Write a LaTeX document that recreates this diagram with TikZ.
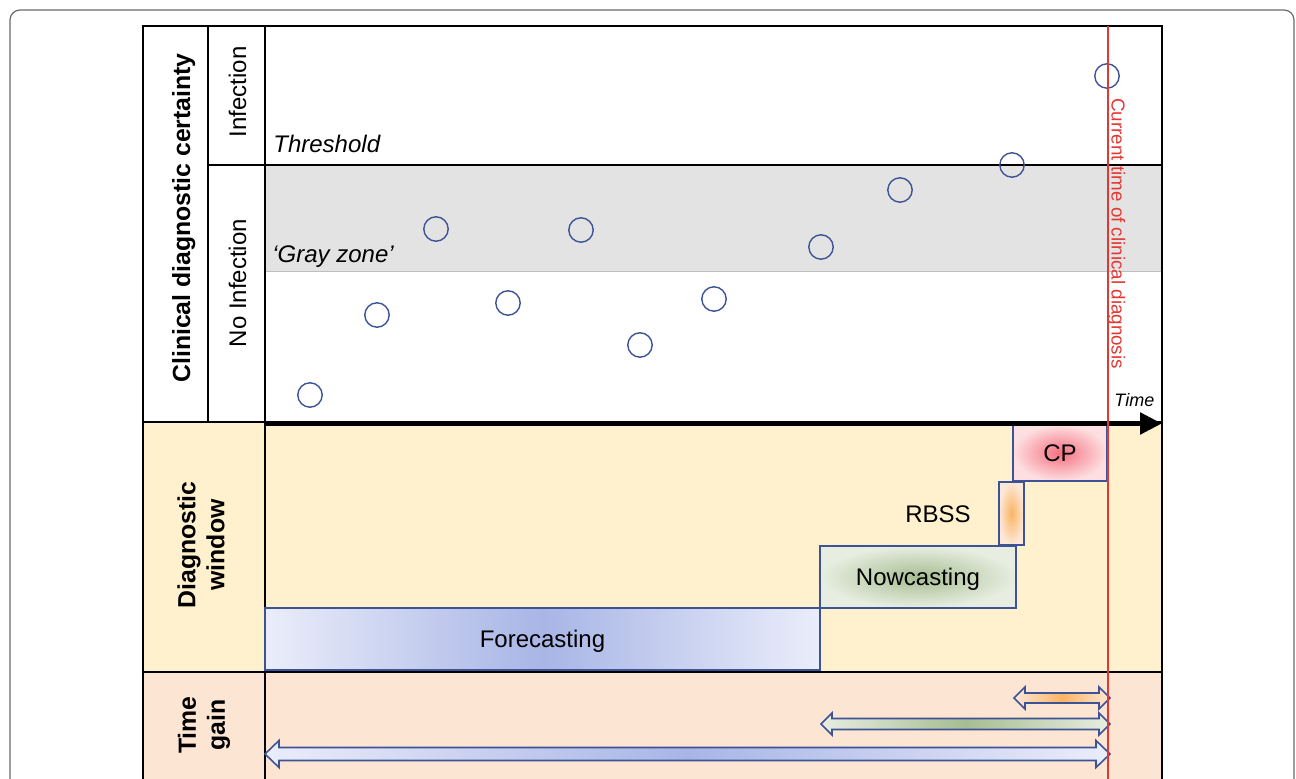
\documentclass[tikz,border=0pt]{standalone}
\usepackage{fontspec}
\setmainfont{Liberation Sans}
\usetikzlibrary{arrows.meta}

\definecolor{framegray}{RGB}{105,105,105}
\definecolor{ink}{RGB}{62,82,150}
\definecolor{rowyellow}{RGB}{255,241,205}
\definecolor{rowpeach}{RGB}{253,229,211}
\definecolor{zone}{RGB}{227,227,227}
\definecolor{zoneedge}{RGB}{190,190,190}
\definecolor{nowred}{RGB}{228,55,50}
\definecolor{blueC}{RGB}{168,181,230}
\definecolor{blueE}{RGB}{234,237,250}
\definecolor{greenC}{RGB}{166,189,145}
\definecolor{greenE}{RGB}{231,238,225}
\definecolor{orangeC}{RGB}{250,180,100}
\definecolor{orangeE}{RGB}{252,232,216}
\definecolor{redC}{RGB}{245,112,128}
\definecolor{redE}{RGB}{253,223,225}

\tikzset{
  rule/.style={line width=1pt, black},
  headlbl/.style={font=\bfseries\fontsize{12.4}{14.5}\selectfont, inner sep=0pt, align=center, rotate=90},
  sublbl/.style={font=\fontsize{12}{14}\selectfont, inner sep=0pt, rotate=90, anchor=base},
  note/.style={font=\itshape\fontsize{12}{14}\selectfont, inner sep=0pt, anchor=base west},
  dot/.style={circle, draw=ink, line width=0.7pt, minimum size=12.2pt, inner sep=0pt},
  stage/.style={draw=ink, line width=0.7pt, inner sep=0pt, text depth=0pt, font=\fontsize{12}{14}\selectfont},
  gain/.style={draw=ink, line width=0.8pt, line join=miter},
}

% double-headed block arrow: shading, left x, right x, centre y, half shaft, half head, head length
\newcommand\gainarrow[7]{%
  \path[gain, #1] (#2,#4) -- ({#2+#7},{#4-#6}) -- ({#2+#7},{#4-#5}) -- ({#3-#7},{#4-#5})
    -- ({#3-#7},{#4-#6}) -- (#3,#4) -- ({#3-#7},{#4+#6}) -- ({#3-#7},{#4+#5})
    -- ({#2+#7},{#4+#5}) -- ({#2+#7},{#4+#6}) -- cycle;}

\begin{document}
\begin{tikzpicture}[x=0.5pt, y=-0.5pt]
\useasboundingbox (0,0) rectangle (1296,779);
\clip (0,0) rectangle (1296,779);

% outer frame
\draw[framegray, line width=0.6pt, rounded corners=5pt] (10,10) rectangle (1294,840);

% row backgrounds
\fill[rowyellow] (143,422) rectangle (1162,672);
\fill[rowpeach] (143,672) rectangle (1162,840);

% gray zone band
\filldraw[fill=zone, draw=zoneedge, line width=0.5pt] (265,165) rectangle (1161,272);

% table rules
\draw[rule] (143,26) rectangle (1162,840);
\draw[rule] (208,26) -- (208,422);
\draw[rule] (265,26) -- (265,840);
\draw[rule] (208,165) -- (1162,165);
\draw[rule] (143,422) -- (1162,422);
\draw[rule] (143,672) -- (1162,672);

% row headings
\node[headlbl, anchor=base, align=left] (hcert) at (190,218) {Clinical diagnostic certainty};
\node[sublbl] (hinf) at (246,92) {Infection};
\node[sublbl] (hnoinf) at (246,283) {No Infection};
\node[headlbl] (hwin) at (201,545) {Diagnostic\\window};
\node[headlbl] (hgain) at (204,725) {Time\\gain};

% band labels
\node[note] (thr) at (273,153) {Threshold};
\node[note] (gz) at (272,263) {‘Gray zone’};

% observations
\node[dot] (p1) at (310,395) {};
\node[dot] (p2) at (377,315) {};
\node[dot] (p3) at (436,229) {};
\node[dot] (p4) at (508,303) {};
\node[dot] (p5) at (581,230) {};
\node[dot] (p6) at (640,345) {};
\node[dot] (p7) at (714,299) {};
\node[dot] (p8) at (821,247) {};
\node[dot] (p9) at (900,190) {};
\node[dot] (p10) at (1012,165) {};
\node[dot] (p11) at (1107,76) {};

% diagnostic window stages
\node[stage, minimum width=277.5pt, minimum height=31pt,
      left color=blueE, right color=blueE, middle color=blueC] (fc) at (542.5,639) {Forecasting};
\node[stage, minimum width=98pt, minimum height=31pt,
      inner color=greenC, outer color=greenE] (nc) at (918,577) {Nowcasting};
\node[stage, minimum width=12.5pt, minimum height=31.5pt,
      inner color=orangeC, outer color=orangeE] (rb) at (1011.5,513.5) {};
\node[font=\fontsize{12}{14}\selectfont, inner sep=0pt] (rblbl) at (938,514) {RBSS};
\node[stage, minimum width=47pt, minimum height=28pt,
      inner color=redC, outer color=redE] (cp) at (1060,453) {CP};

% time gain arrows
\gainarrow{left color=orangeE, right color=orangeE, middle color=orangeC}{1014}{1110}{698}{5}{11}{11}
\gainarrow{left color=greenE, right color=greenE, middle color=greenC}{821}{1110}{724}{5.5}{11}{11}
\gainarrow{left color=blueE, right color=blueE, middle color=blueC}{265}{1110}{754}{6.5}{13.5}{14}

% time axis
\coordinate (t0) at (265,423.5);
\coordinate (t1) at (1162,423.5);
\draw[line width=2.6pt, -{Triangle[length=11pt, width=10.5pt]}] (t0) -- (t1);
\node[font=\itshape\fontsize{9}{11}\selectfont, inner sep=0pt, anchor=base west] (tlbl) at (1114,407) {Time};

% current time of diagnosis
\coordinate (n0) at (1108,26);
\coordinate (n1) at (1108,840);
\draw[nowred, line width=0.6pt] (n0) -- (n1);
\node[font=\fontsize{9.4}{11}\selectfont, text=nowred, inner sep=0pt, rotate=-90, anchor=base west]
  (nlbl) at (1111.5,98) {Current time of clinical diagnosis};
\end{tikzpicture}
\end{document}
